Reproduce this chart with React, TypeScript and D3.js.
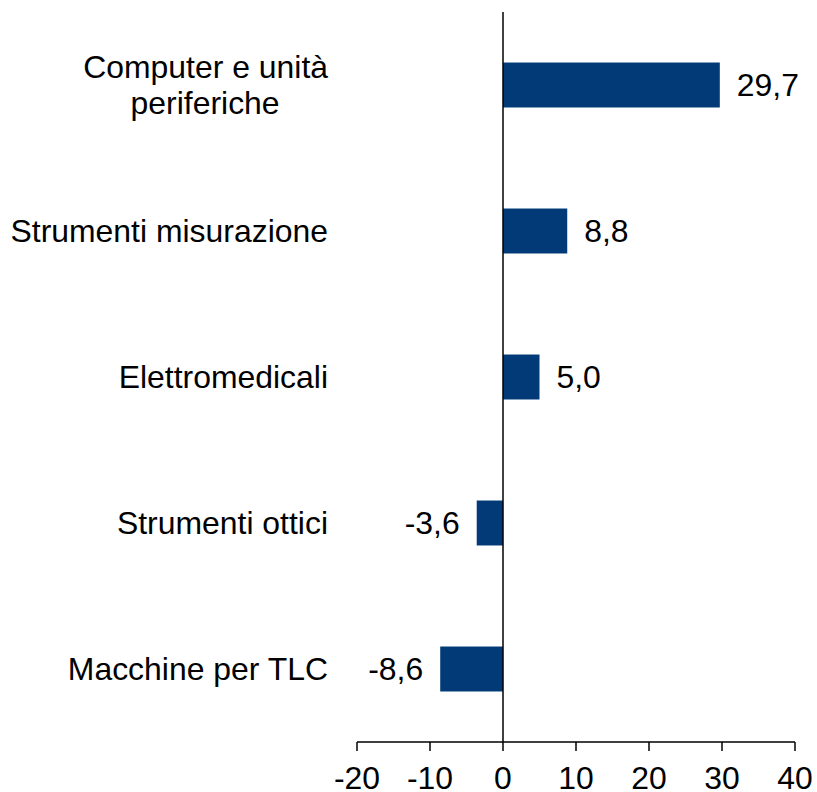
import React from "react";
import * as d3 from "d3";

const categories = [
  "Computer e unità|periferiche",
  "Strumenti misurazione",
  "Elettromedicali",
  "Strumenti ottici",
  "Macchine per TLC",
];
const values = [29.7, 8.8, 5.0, -3.6, -8.6];
const xTicks = [-20, -10, 0, 10, 20, 30, 40];

const W = 817;
const H = 792;
const FONT = "'Liberation Sans', Arial, Helvetica, sans-serif";
const BAR = "#023a78";
const SX = 1.03;

export default function App() {
  const x = d3.scaleLinear().domain([-20, 40]).range([357, 795]);
  const y = d3
    .scaleBand<string>()
    .domain(categories)
    .range([12, 742])
    .paddingInner(0.692)
    .paddingOuter(0.346);
  const axisY = 742;
  const fmt = (v: number) => v.toFixed(1).replace(".", ",");
  const fs = 31;

  return (
    <svg
      width={W}
      height={H}
      style={{ position: "absolute", left: 0, top: 0, background: "#fff" }}
      fontFamily={FONT}
    >
      <rect x={0} y={0} width={W} height={H} fill="#fff" />
      {categories.map((c, i) => {
        const v = values[i];
        const y0 = y(c)!;
        const bw = y.bandwidth();
        const cy = y0 + bw / 2;
        const x0 = x(Math.min(0, v));
        const x1 = x(Math.max(0, v));
        const lines = c.split("|");
        const lh = 36;
        const vx = v >= 0 ? x1 + 17 : x0 - 17;
        return (
          <g key={c}>
            <rect x={x0} y={y0} width={x1 - x0} height={bw} fill={BAR} />
            <g transform={`translate(${vx},${cy}) scale(${SX},1)`}>
              <text
                x={0}
                y={0}
                dy="0.36em"
                fontSize={fs}
                textAnchor={v >= 0 ? "start" : "end"}
                fill="#000"
              >
                {fmt(v)}
              </text>
            </g>
            <g transform={`translate(328,${cy - ((lines.length - 1) * lh) / 2}) scale(${SX},1)`}>
              <text x={0} y={0} fontSize={fs} textAnchor="end" fill="#000">
                {lines.map((l, j) => (
                  <tspan
                    key={j}
                    x={lines.length > 1 && j === 1 ? -47 : 0}
                    dy={j === 0 ? "0.36em" : lh}
                  >
                    {l}
                  </tspan>
                ))}
              </text>
            </g>
          </g>
        );
      })}
      <line x1={x(0)} x2={x(0)} y1={12} y2={axisY} stroke="#000" strokeWidth={1.5} />
      <line x1={x(-20)} x2={x(40)} y1={axisY} y2={axisY} stroke="#000" strokeWidth={1.5} />
      {xTicks.map((t) => (
        <g key={t}>
          <line x1={x(t)} x2={x(t)} y1={axisY} y2={axisY + 9} stroke="#000" strokeWidth={1.5} />
          <g transform={`translate(${x(t)},789) scale(${SX},1)`}>
            <text x={0} y={0} fontSize={fs} textAnchor="middle" fill="#000">
              {t}
            </text>
          </g>
        </g>
      ))}
    </svg>
  );
}
